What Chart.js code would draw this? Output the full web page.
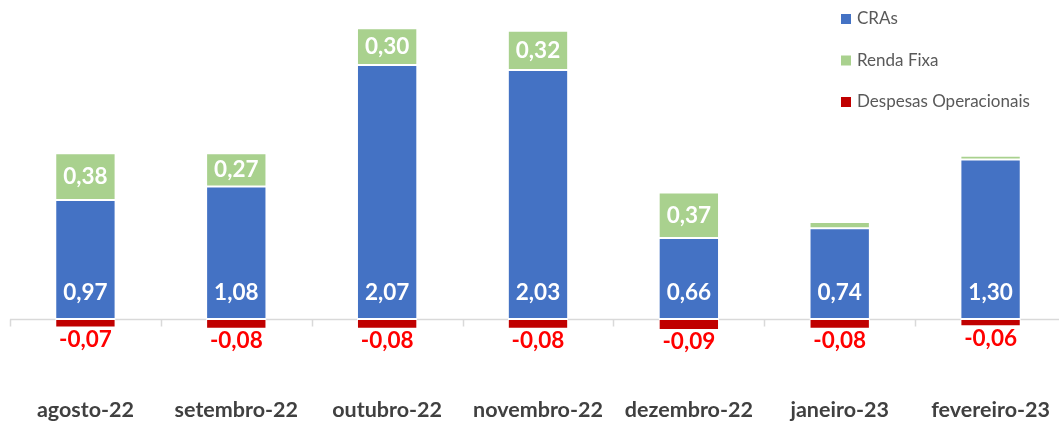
<!DOCTYPE html>
<html>
<head>
<meta charset="utf-8">
<script src="https://cdn.jsdelivr.net/npm/chart.js@4.4.1/dist/chart.umd.min.js"></script>
<style>
  html, body { margin: 0; padding: 0; background: #fff; overflow: hidden; }
  #wrap { position: absolute; left: 0; top: 0; width: 1070px; height: 421px; }
  #chart { display: block; width: 1070px; height: 421px; }
</style>
</head>
<body>
<div id="wrap"><canvas id="chart" width="1070" height="421"></canvas></div>
<script>
/* ===== Datos ===== */
const months = ['agosto-22','setembro-22','outubro-22','novembro-22','dezembro-22','janeiro-23','fevereiro-23'];
const cras = [0.97, 1.08, 2.07, 2.03, 0.66, 0.74, 1.30];
const rendaFixa = [0.38, 0.27, 0.30, 0.32, 0.37, 0.05, 0.03];
const despesas = [-0.07, -0.08, -0.08, -0.08, -0.09, -0.08, -0.06];

const BLUE = '#4472c4', GREEN = '#a9d18e', DARKRED = '#c00000';
const FONT = 'Lato, "Open Sans", sans-serif';
const fmt = v => v.toFixed(2).replace('.', ',');

/* ===== Eixo zero + marcas ===== */
const axisPlugin = {
  id: 'zeroAxis',
  beforeDatasetsDraw(chart) {
    const { ctx, chartArea, scales } = chart;
    const y0 = Math.round(scales.y.getPixelForValue(0)) + 0.5;
    const step = scales.x.getPixelForValue(1) - scales.x.getPixelForValue(0);
    ctx.save();
    ctx.strokeStyle = '#d9d9d9';
    ctx.lineWidth = 1.5;
    ctx.beginPath();
    ctx.moveTo(chartArea.left, y0);
    ctx.lineTo(chartArea.right, y0);
    for (let i = 0; i <= months.length; i++) {
      const x = Math.round(scales.x.getPixelForValue(0) - step / 2 + i * step) + 0.5;
      ctx.moveTo(x, y0);
      ctx.lineTo(x, y0 + 7);
    }
    ctx.stroke();
    ctx.restore();
  }
};

/* ===== Rótulos de dados ===== */
const labelPlugin = {
  id: 'valueLabels',
  afterDatasetsDraw(chart) {
    const { ctx } = chart;
    ctx.save();
    ctx.textAlign = 'center';
    ctx.textBaseline = 'middle';
    ctx.font = 'bold 22.5px ' + FONT;
    chart.data.datasets.forEach((ds, di) => {
      chart.getDatasetMeta(di).data.forEach((bar, i) => {
        const v = ds.data[i];
        if (di === 0) {
          ctx.fillStyle = '#fff';
          ctx.fillText(fmt(v), bar.x, bar.base - 26);
        } else if (di === 1) {
          if (v < 0.1) return;
          ctx.fillStyle = '#fff';
          ctx.fillText(fmt(v), bar.x, (bar.y + bar.base) / 2);
        } else {
          ctx.fillStyle = '#ff0000';
          ctx.fillText(fmt(v), bar.x, bar.y + 12);
        }
      });
    });
    ctx.restore();
  }
};

/* ===== Legenda ===== */
const legendPlugin = {
  id: 'sideLegend',
  afterDraw(chart) {
    const { ctx } = chart;
    ctx.save();
    ctx.font = '17px ' + FONT;
    ctx.textBaseline = 'middle';
    ctx.textAlign = 'left';
    chart.data.datasets.forEach((ds, i) => {
      const y = 19 + i * 41.5;
      ctx.fillStyle = ds.backgroundColor;
      ctx.fillRect(841, y - 5, 10, 10);
      ctx.fillStyle = '#595959';
      ctx.fillText(ds.label, 857, y);
    });
    ctx.restore();
  }
};

new Chart(document.getElementById('chart'), {
  type: 'bar',
  data: {
    labels: months,
    datasets: [
      { label: 'CRAs', data: cras, backgroundColor: BLUE },
      { label: 'Renda Fixa', data: rendaFixa, backgroundColor: GREEN },
      { label: 'Despesas Operacionais', data: despesas, backgroundColor: DARKRED }
    ]
  },
  options: {
    responsive: false,
    animation: false,
    devicePixelRatio: 1,
    layout: { padding: { left: 10, right: 4, top: 0, bottom: 0 } },
    datasets: { bar: { categoryPercentage: 1, barPercentage: 0.4, borderColor: '#fff', borderWidth: 1, borderSkipped: false } },
    plugins: { legend: { display: false }, tooltip: { enabled: false } },
    scales: {
      x: {
        stacked: true,
        grid: { display: false, drawTicks: false },
        border: { display: false },
        afterFit: s => { s.height = 53; s.paddingLeft = 0; s.paddingRight = 0; },
        ticks: { padding: 29, maxRotation: 0, autoSkip: false, color: '#404040', font: { family: FONT, size: 21.5, weight: 'bold' } }
      },
      y: {
        stacked: true,
        display: false,
        min: -0.4,
        max: 2.6
      }
    }
  },
  plugins: [axisPlugin, labelPlugin, legendPlugin]
});
</script>
</body>
</html>
